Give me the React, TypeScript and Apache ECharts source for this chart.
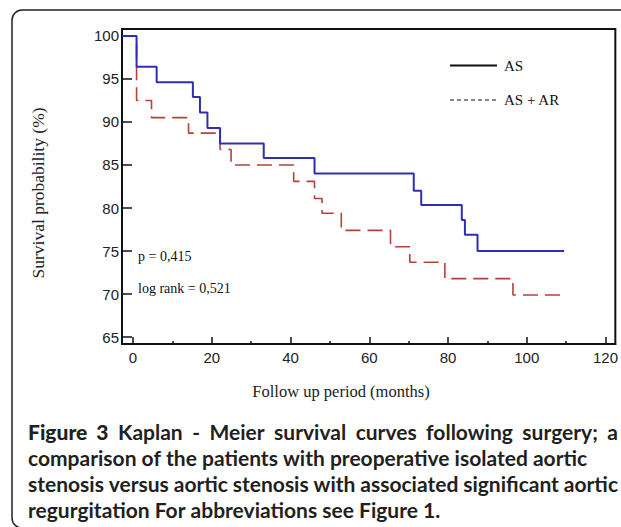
import React, { useEffect, useRef } from "react";
import * as echarts from "echarts";

const asData: [number, number][] = [
  [-2.8, 100], [0.9, 96.4], [6.0, 94.6], [15.2, 92.9], [17.0, 91.1], [18.9, 89.3],
  [22.1, 87.5], [33.2, 85.8], [46.1, 84.0], [71.3, 82.0], [73.2, 80.35], [83.5, 78.6],
  [84.3, 76.9], [87.5, 75.0], [109.5, 75.0],
];
const asArData: [number, number][] = [
  [-2.8, 100], [0.9, 92.5], [4.7, 90.5], [14.1, 88.7], [22.1, 86.8], [24.9, 85.0],
  [40.8, 83.1], [46.1, 81.1], [48.0, 79.4], [52.9, 77.4], [65.4, 75.5], [70.3, 73.7],
  [79.2, 71.8], [96.5, 69.9], [109.5, 69.9],
];
const yTicks = [65, 70, 75, 80, 85, 90, 95, 100];
const xMajorTicks = [0, 20, 40, 60, 80, 100, 120];
const xMinorTicks = [10, 30, 50, 70, 90, 110];
const legendNames = ["AS", "AS + AR"];
const statTexts = ["p = 0,415", "log rank = 0,521"];
const captionBold = "Figure 3";
const captionLines = [
  "Kaplan - Meier survival curves following surgery; a",
  "comparison of the patients with preoperative isolated aortic",
  "stenosis versus aortic stenosis with associated significant aortic",
  "regurgitation For abbreviations see Figure 1.",
];
const captionJustify = [true, false, true, false];

const SERIF = "'Liberation Serif', 'DejaVu Serif', serif";
const SANS = "'Liberation Sans', Arial, sans-serif";
const CAP = "Lato, 'Noto Sans', sans-serif";
const CAP_SIZE = 21;
const CAP_LEFT = 28;
const CAP_RIGHT = 618;

export default function App() {
  const ref = useRef<HTMLDivElement>(null);
  useEffect(() => {
    if (!ref.current) return;
    const chart = echarts.init(ref.current, undefined, { renderer: "svg" });
    const ctx = document.createElement("canvas").getContext("2d")!;
    ctx.font = `bold ${CAP_SIZE}px ${CAP}`;
    const captionGraphics: any[] = [];
    captionLines.forEach((line, i) => {
      const y = 431 + i * 26.3;
      const words = (i === 0 ? captionBold.split(" ") : []).concat(line.split(" "));
      const widths = words.map((w) => ctx.measureText(w).width);
      const space = ctx.measureText(" ").width;
      const total = widths.reduce((a, b) => a + b, 0);
      const gap = captionJustify[i] ? (CAP_RIGHT - CAP_LEFT - total) / (words.length - 1) : space;
      let x = CAP_LEFT;
      words.forEach((w, k) => {
        captionGraphics.push({
          type: "text", x, y,
          style: {
            text: w, fontFamily: CAP, fontSize: CAP_SIZE,
            fontWeight: i === 0 && k < 2 ? 900 : "bold",
            fill: "#231f20", verticalAlign: "middle",
          },
        });
        x += widths[k] + gap;
      });
    });
    chart.setOption({
      animation: false,
      backgroundColor: "#fff",
      grid: {
        left: 122, top: 29, right: 5, bottom: 183,
        show: true, borderColor: "#111", borderWidth: 2, backgroundColor: "transparent",
      },
      xAxis: [
        {
          type: "value", min: -2.8, max: 122.5,
          axisLine: { show: true, onZero: false, lineStyle: { color: "#111", width: 2 } },
          axisTick: { show: true, inside: true, length: 7, customValues: xMajorTicks, lineStyle: { color: "#111", width: 1.5 } },
          axisLabel: { customValues: xMajorTicks, margin: 6, fontSize: 15, color: "#222", fontFamily: SANS },
          splitLine: { show: false },
        },
        {
          type: "value", min: -2.8, max: 122.5, position: "bottom",
          axisLine: { show: false },
          axisTick: { show: true, inside: true, length: 3, customValues: xMinorTicks, lineStyle: { color: "#111", width: 1.5 } },
          axisLabel: { show: false },
          splitLine: { show: false },
        },
      ],
      yAxis: {
        type: "value", min: 64.2, max: 100.8,
        axisLine: { show: true, onZero: false, lineStyle: { color: "#111", width: 2 } },
        axisTick: { show: true, inside: true, length: 10, customValues: yTicks, lineStyle: { color: "#111", width: 1.5 } },
        axisLabel: { customValues: yTicks, margin: 3, fontSize: 15, color: "#222", fontFamily: SANS },
        splitLine: { show: false },
      },
      series: [
        {
          name: legendNames[1], type: "line", step: "end", data: asArData, symbol: "none",
          lineStyle: { color: "#b5403c", width: 1.6, type: [15, 7] },
        },
        {
          name: legendNames[0], type: "line", step: "end", data: asData, symbol: "none",
          lineStyle: { color: "#2e2eb5", width: 2 },
        },
      ],
      graphic: [
        { type: "rect", shape: { x: 12, y: 10, width: 640, height: 518, r: 10 }, style: { fill: "none", stroke: "#222", lineWidth: 1.5 } },
        { type: "line", shape: { x1: 450, y1: 65.5, x2: 497, y2: 65.5 }, style: { stroke: "#111", lineWidth: 2 } },
        { type: "text", x: 504, y: 65.5, style: { text: legendNames[0], fontFamily: SERIF, fontSize: 15, fill: "#111", verticalAlign: "middle" } },
        { type: "line", shape: { x1: 450, y1: 100, x2: 497, y2: 100 }, style: { stroke: "#111", lineWidth: 1, lineDash: [4, 3] } },
        { type: "text", x: 504, y: 100, style: { text: legendNames[1], fontFamily: SERIF, fontSize: 15, fill: "#111", verticalAlign: "middle" } },
        { type: "text", x: 138, y: 256, style: { text: statTexts[0], fontFamily: SERIF, fontSize: 14, fill: "#111", verticalAlign: "middle" } },
        { type: "text", x: 138, y: 288, style: { text: statTexts[1], fontFamily: SERIF, fontSize: 14, fill: "#111", verticalAlign: "middle" } },
        { type: "text", x: 38, y: 193, rotation: Math.PI / 2, style: { text: "Survival probability (%)", fontFamily: SERIF, fontSize: 17.5, fill: "#222", align: "center", verticalAlign: "middle" } },
        { type: "text", x: 341, y: 391, style: { text: "Follow up period (months)", fontFamily: SERIF, fontSize: 16.5, fill: "#222", align: "center", verticalAlign: "middle" } },
        ...captionGraphics,
      ],
    });
    return () => chart.dispose();
  }, []);
  return <div ref={ref} style={{ position: "fixed", left: 0, top: 0, width: 621, height: 527 }} />;
}
